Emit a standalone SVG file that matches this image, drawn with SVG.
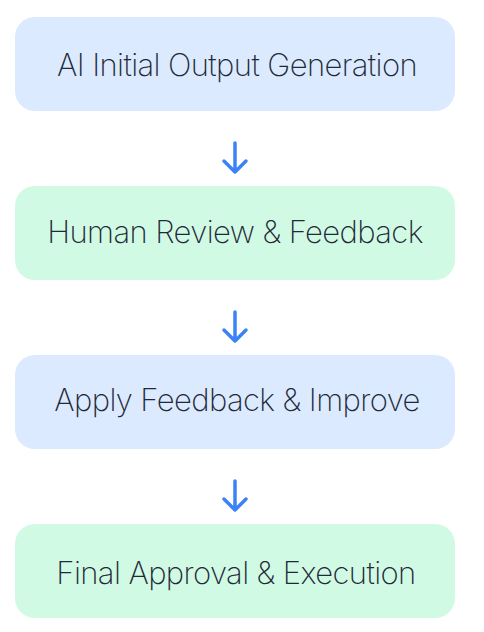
<svg xmlns="http://www.w3.org/2000/svg" width="484" height="632" viewBox="0 0 484 632">
<style>
.box{stroke:none}
.blue{fill:#dbeafe}
.green{fill:#d1fae5}
.lbl{font-family:Inter,"Noto Sans",sans-serif;font-weight:200;font-size:31px;letter-spacing:-0.6px;fill:#1f2937;text-anchor:middle}
.arr{fill:none;stroke:#3b82f6;stroke-width:3.5;stroke-linecap:round;stroke-linejoin:round}
</style>
<rect width="484" height="632" fill="#ffffff"/>
<g id="node1"><rect class="box blue" x="15" y="17" width="440" height="94" rx="20"/><text class="lbl" x="237" y="76">AI Initial Output Generation</text></g>
<g id="node2"><rect class="box green" x="15" y="186" width="440" height="94" rx="20"/><text class="lbl" x="235" y="243">Human Review &amp; Feedback</text></g>
<g id="node3"><rect class="box blue" x="15" y="355" width="440" height="94" rx="20"/><text class="lbl" x="237" y="411">Apply Feedback &amp; Improve</text></g>
<g id="node4"><rect class="box green" x="15" y="524" width="440" height="94" rx="20"/><text class="lbl" x="236" y="584">Final Approval &amp; Execution</text></g>
<g id="connectors">
<path class="arr" d="M235 143 V172 M224 161 L235 172 L246 161"/>
<path class="arr" d="M235 312 V341 M224 330 L235 341 L246 330"/>
<path class="arr" d="M235 481 V510 M224 499 L235 510 L246 499"/>
</g>
</svg>
